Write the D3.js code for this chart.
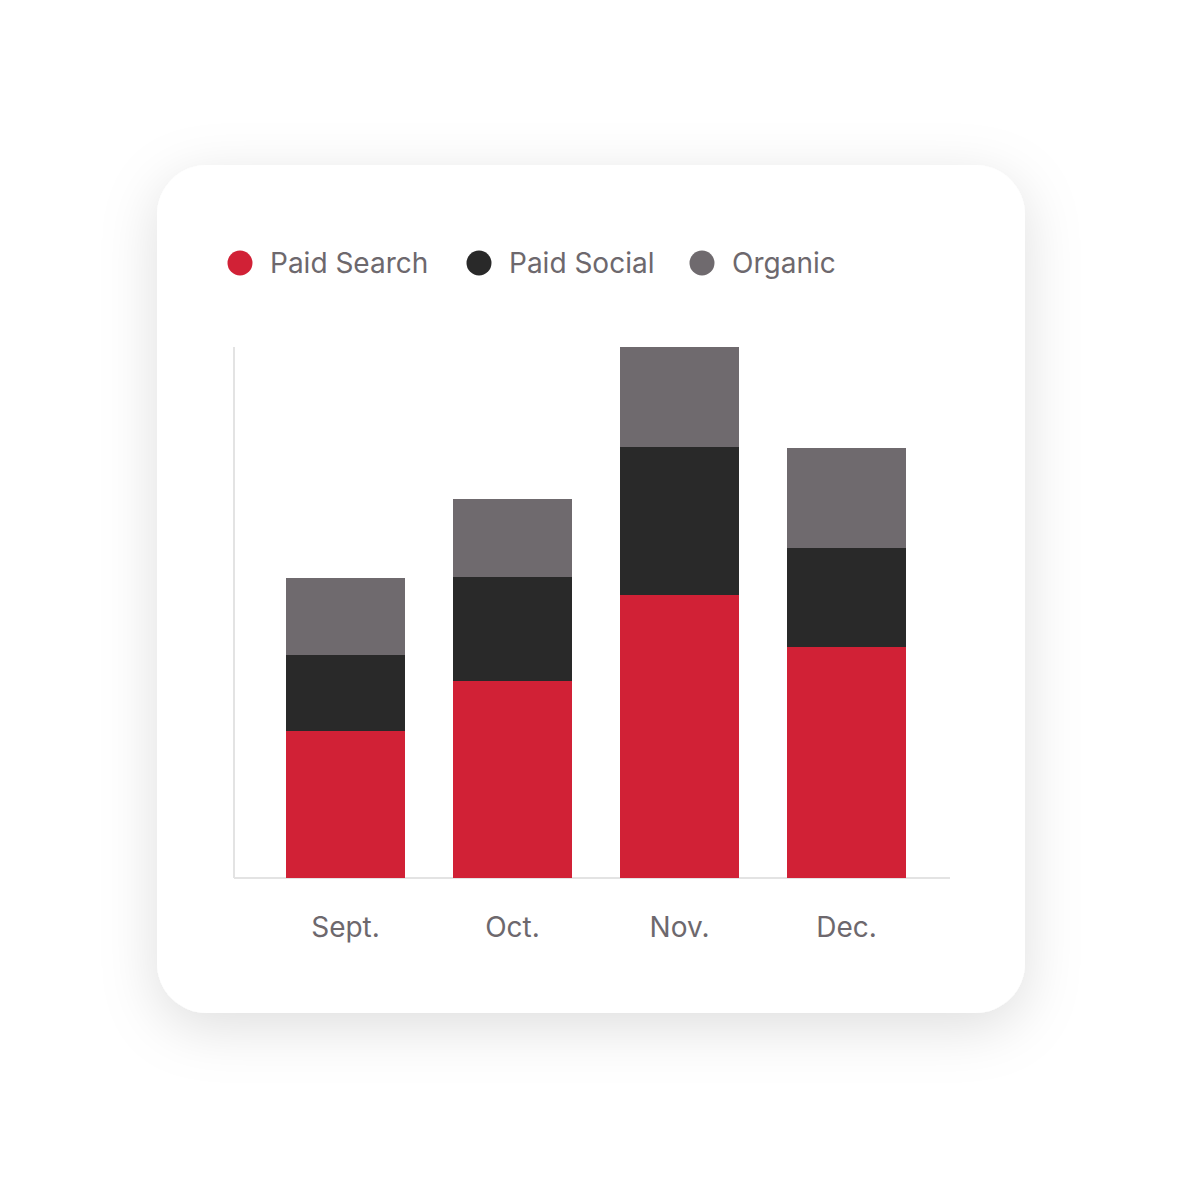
<!DOCTYPE html>
<html>
<head>
<meta charset="utf-8">
<script src="https://cdn.jsdelivr.net/npm/d3@7"></script>
<style>
  body { margin: 0; background: #ffffff; }
  svg { display: block; }
</style>
</head>
<body>
<div class="plot"></div>
<script>
// stacked bars: traffic source by month

var months = ["Sept.", "Oct.", "Nov.", "Dec."];
var seriesNames = ["Paid Search", "Paid Social", "Organic"];
var paidSearch = [147, 197, 283, 231];
var paidSocial = [76, 104, 148, 99];
var organic = [77, 78, 100, 100];
var colors = ["#d12136", "#292929", "#6f6a6e"];

var svgWidth = 1200;
var svgHeight = 1200;

var margin = { top: 347, left: 234, right: 250, bottom: 322 };
var width = svgWidth - margin.left - margin.right;
var height = svgHeight - margin.top - margin.bottom;

var svg = d3.select(".plot")
  .append("svg")
  .attr("width", svgWidth)
  .attr("height", svgHeight);

// card with soft shadow
var defs = svg.append("defs");
var filter = defs.append("filter")
  .attr("id", "shadow")
  .attr("x", "-30%").attr("y", "-30%")
  .attr("width", "160%").attr("height", "160%");
filter.append("feDropShadow")
  .attr("dx", 0).attr("dy", 14)
  .attr("stdDeviation", 28)
  .attr("flood-color", "#000")
  .attr("flood-opacity", 0.13);

svg.append("rect")
  .attr("x", 157).attr("y", 165)
  .attr("width", 868).attr("height", 848)
  .attr("rx", 50).attr("ry", 50)
  .attr("fill", "#ffffff")
  .attr("filter", "url(#shadow)");

var chartGroup = svg.append("g")
  .attr("transform", `translate(${margin.left}, ${margin.top})`);

// build table for stacking
var table = months.map((m, i) => ({
  month: m,
  "Paid Search": paidSearch[i],
  "Paid Social": paidSocial[i],
  "Organic": organic[i]
}));

var stacked = d3.stack().keys(seriesNames)(table);

var xScale = d3.scaleBand()
  .domain(months)
  .range([52, 672])
  .paddingInner(48 / 167)
  .paddingOuter(0);

var yScale = d3.scaleLinear()
  .domain([0, d3.max(stacked[stacked.length - 1], d => d[1])])
  .range([height, 0]);

var colorScale = d3.scaleOrdinal().domain(seriesNames).range(colors);

// axes lines
chartGroup.append("line")
  .attr("x1", 0).attr("x2", 0)
  .attr("y1", 0).attr("y2", height)
  .attr("stroke", "#e3e3e3").attr("stroke-width", 2);

chartGroup.append("line")
  .attr("x1", 0).attr("x2", 716)
  .attr("y1", height).attr("y2", height)
  .attr("stroke", "#e3e3e3").attr("stroke-width", 2);

// bars
chartGroup.selectAll(".layer")
  .data(stacked)
  .enter()
  .append("g")
  .attr("class", "layer")
  .attr("fill", d => colorScale(d.key))
  .selectAll("rect")
  .data(d => d)
  .enter()
  .append("rect")
  .attr("x", d => xScale(d.data.month))
  .attr("y", d => yScale(d[1]))
  .attr("width", xScale.bandwidth())
  .attr("height", d => yScale(d[0]) - yScale(d[1]));

// x labels
var bottomAxis = d3.axisBottom(xScale).tickSize(0).tickPadding(0);
var axisG = chartGroup.append("g")
  .attr("transform", `translate(0, ${height})`)
  .call(bottomAxis);
axisG.select(".domain").remove();
axisG.selectAll("text")
  .attr("dy", null)
  .attr("y", 59)
  .style("font-family", "Inter, 'Noto Sans', sans-serif")
  .style("font-size", "28px")
  .style("fill", "#6d686d");

// legend
var legendX = [240, 479, 702];
var legend = svg.selectAll(".legend")
  .data(seriesNames)
  .enter()
  .append("g")
  .attr("class", "legend")
  .attr("transform", (d, i) => `translate(${legendX[i]}, 263)`);

legend.append("circle")
  .attr("r", 12.5)
  .attr("fill", d => colorScale(d));

legend.append("text")
  .attr("x", 30)
  .attr("y", 10)
  .style("font-family", "Inter, 'Noto Sans', sans-serif")
  .style("font-size", "28px")
  .style("fill", "#6d686d")
  .text(d => d);
</script>
</body>
</html>
